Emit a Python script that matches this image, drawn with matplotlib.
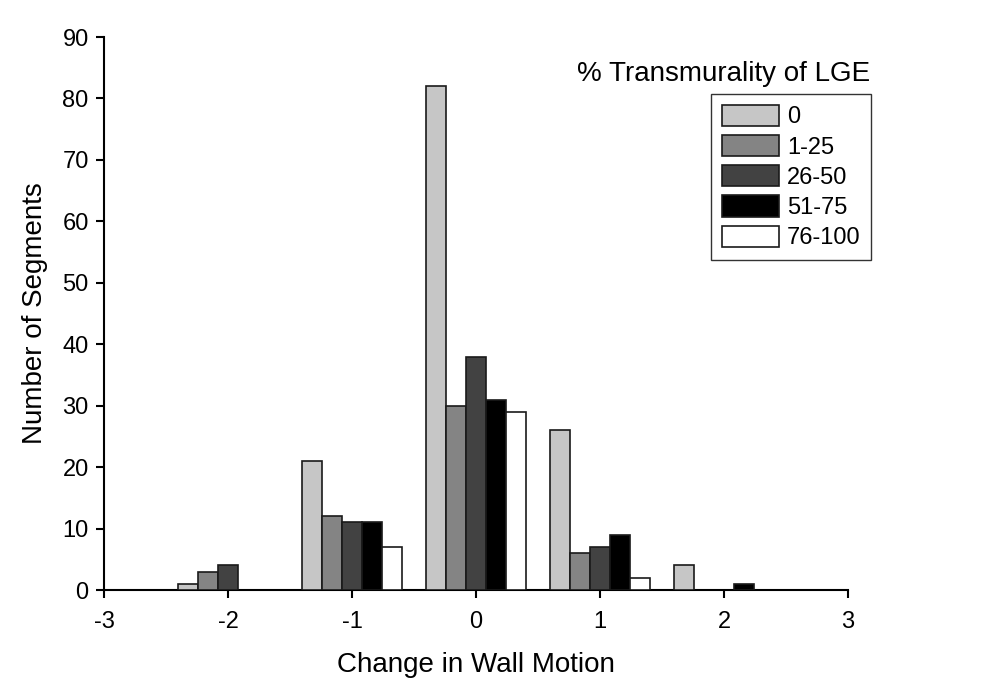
import numpy as np
import matplotlib
matplotlib.use('Agg')
from matplotlib import pyplot as plt

plt.rcParams['font.family'] = ['Liberation Sans', 'DejaVu Sans']
plt.rcParams['axes.unicode_minus'] = False

wall_motion = [-2, -1, 0, 1, 2]
categories = ['0', '1-25', '26-50', '51-75', '76-100']
counts = {
    '0':      [1, 21, 82, 26, 4],
    '1-25':   [3, 12, 30, 6, 0],
    '26-50':  [4, 11, 38, 7, 0],
    '51-75':  [0, 11, 31, 9, 1],
    '76-100': [0, 7, 29, 2, 0],
}
colors = ['#c6c6c6', '#848484', '#424242', '#000000', '#ffffff']

fig = plt.figure(figsize=(9.84, 6.79), dpi=100)
ax = fig.add_axes([0.1057, 0.131, 0.7561, 0.8145])

width = 0.16
x = np.array(wall_motion, dtype=float)
for i, cat in enumerate(categories):
    vals = np.array(counts[cat])
    offset = (i - 2) * width
    mask = vals > 0
    ax.bar(x[mask] + offset, vals[mask], width=width, color=colors[i],
           edgecolor='#1a1a1a', linewidth=1.2, label=cat, zorder=3)

ax.set_xlim(-3, 3)
ax.set_ylim(0, 90)
ax.set_xticks(range(-3, 4))
ax.set_yticks(range(0, 91, 10))
ax.spines['top'].set_visible(False)
ax.spines['right'].set_visible(False)
for s in ['left', 'bottom']:
    ax.spines[s].set_linewidth(1.5)
ax.tick_params(direction='out', length=6, width=1.5, labelsize=17, pad=5)
ax.tick_params(axis='x', pad=9)

ax.set_xlabel('Change in Wall Motion', fontsize=20, labelpad=14)
ax.set_ylabel('Number of Segments', fontsize=20, labelpad=10)

leg = ax.legend(loc='upper right', bbox_to_anchor=(1.031, 0.897), borderaxespad=0,
                fontsize=17, handlelength=2.4, handleheight=1.0, labelspacing=0.28,
                fancybox=False, framealpha=1, edgecolor='#333333', borderpad=0.45,
                handletextpad=0.35)
leg.get_frame().set_linewidth(1.0)

fig.text(870 / 984, 1 - 74 / 679, '% Transmurality of LGE', ha='right', va='center',
         fontsize=20)

fig.savefig('out.png', dpi=100, facecolor='white')
